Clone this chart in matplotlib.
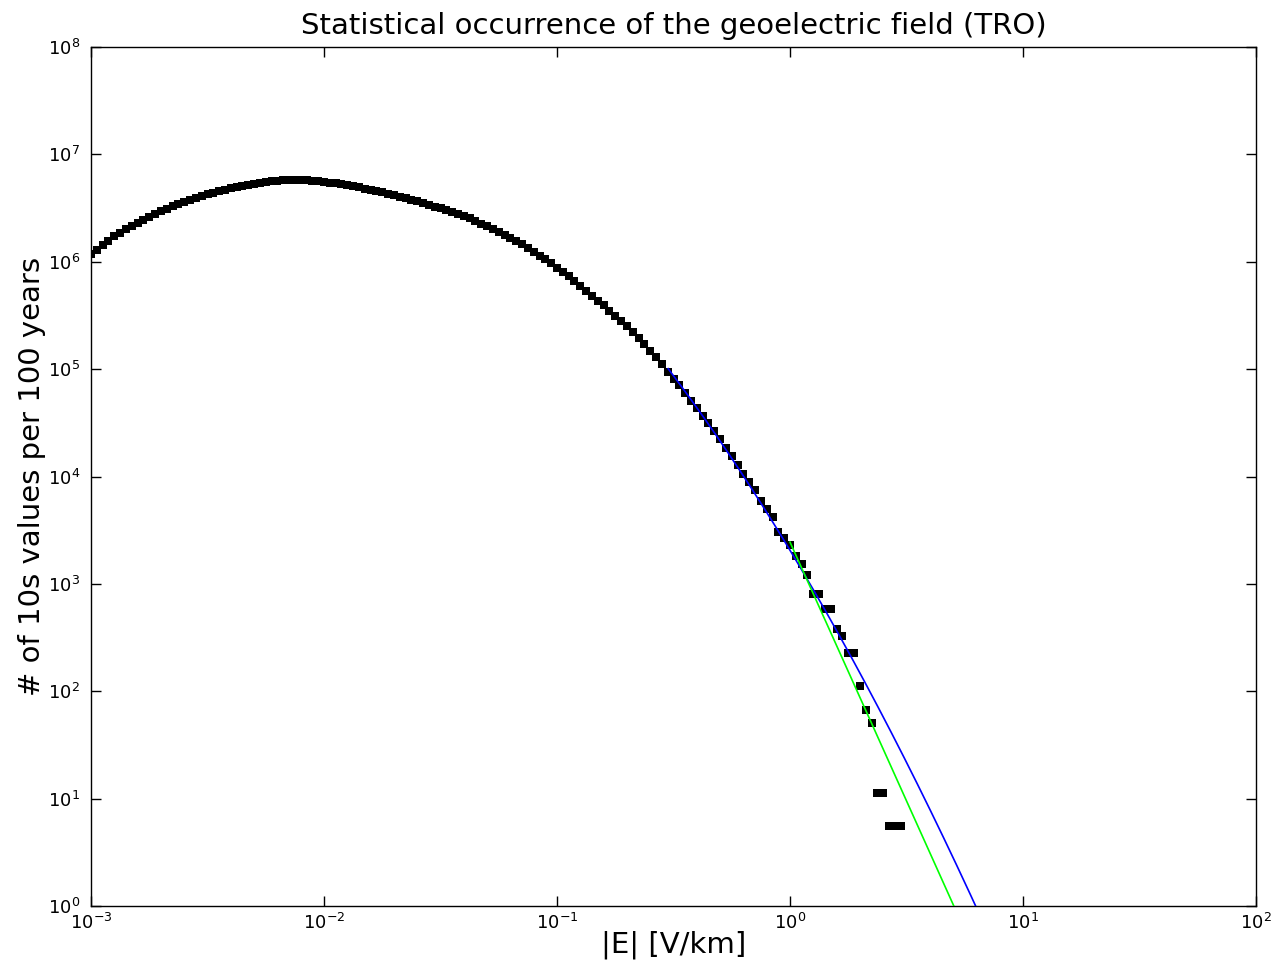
import numpy as np
import matplotlib
matplotlib.use("Agg")
import matplotlib.pyplot as plt
from matplotlib.ticker import LogLocator, NullLocator

# ---- data -------------------------------------------------------------
# logarithmic bin grid of |E| (V/km), 40 bins per decade starting at 1e-3
E_LOG_START = -3.0
E_LOG_STEP = 0.025
N_BINS = 140
E_BINS = 10 ** (E_LOG_START + E_LOG_STEP * np.arange(N_BINS))

# number of 10 s values per 100 years in each bin
COUNTS = [
    1.18e6, 1.29e6, 1.42e6, 1.56e6, 1.72e6, 1.87e6, 2.01e6, 2.15e6, 2.30e6, 2.46e6,
    2.63e6, 2.80e6, 2.96e6, 3.13e6, 3.30e6, 3.48e6, 3.64e6, 3.79e6, 3.95e6, 4.11e6,
    4.26e6, 4.41e6, 4.57e6, 4.70e6, 4.84e6, 4.96e6, 5.08e6, 5.20e6, 5.31e6, 5.42e6,
    5.53e6, 5.61e6, 5.68e6, 5.73e6, 5.77e6, 5.79e6, 5.77e6, 5.73e6, 5.68e6, 5.61e6,
    5.53e6, 5.45e6, 5.36e6, 5.26e6, 5.17e6, 5.05e6, 4.92e6, 4.80e6, 4.68e6, 4.56e6,
    4.44e6, 4.31e6, 4.17e6, 4.04e6, 3.91e6, 3.78e6, 3.65e6, 3.52e6, 3.39e6, 3.27e6,
    3.15e6, 3.04e6, 2.90e6, 2.77e6, 2.65e6, 2.53e6, 2.39e6, 2.26e6, 2.14e6, 2.03e6,
    1.91e6, 1.78e6, 1.67e6, 1.56e6, 1.45e6, 1.34e6, 1.24e6, 1.14e6, 1.05e6, 9.64e5,
    8.79e5, 8.00e5, 7.30e5, 6.64e5, 5.99e5, 5.38e5, 4.84e5, 4.35e5, 3.92e5, 3.51e5,
    3.14e5, 2.82e5, 2.51e5, 2.22e5, 1.95e5, 1.71e5, 1.48e5, 1.29e5, 1.11e5, 9.46e4,
    8.10e4, 7.04e4, 6.03e4, 5.09e4, 4.31e4, 3.67e4, 3.12e4, 2.63e4, 2.22e4, 1.86e4,
    1.55e4, 1.27e4, 1.05e4, 8.91e3, 7.42e3, 5.90e3, 4.97e3, 4.21e3, 3.02e3, 2.65e3,
    2.30e3, 1.82e3, 1.53e3, 1.21e3, 804, 804, 579, 579, 377, 327,
    228, 228, 112, 66.8, 50.2, 11.2, 11.2, 5.59, 5.59, 5.59,
]

# fitted tail models
BLUE_FIT = (3.313, -3.6, -0.7)      # log10 N = a + b*log10E + c*log10E^2
BLUE_RANGE = (0.3, 10.0)
GREEN_FIT = (2.45e3, -4.82)         # N = A * E^p
GREEN_RANGE = (1.0, 10.0)

TITLE = "Statistical occurrence of the geoelectric field (TRO)"
XLABEL = "|E| [V/km]"
YLABEL = "# of 10s values per 100 years"

# ---- figure -----------------------------------------------------------
fig = plt.figure(figsize=(12.76, 9.66), dpi=100)
ax = fig.add_axes([91 / 1276, 1 - 906 / 966, (1256 - 91) / 1276, (906 - 47) / 966])

ax.plot(E_BINS, COUNTS, linestyle="none", marker="s", markersize=5.9,
        markeredgewidth=0, color="black", zorder=2)

xb = np.logspace(np.log10(BLUE_RANGE[0]), np.log10(BLUE_RANGE[1]), 300)
ub = np.log10(xb)
a, b, c = BLUE_FIT
ax.plot(xb, 10 ** (a + b * ub + c * ub ** 2), color="#0000ff", lw=1.2, zorder=3)

xg = np.logspace(np.log10(GREEN_RANGE[0]), np.log10(GREEN_RANGE[1]), 300)
ax.plot(xg, GREEN_FIT[0] * xg ** GREEN_FIT[1], color="#00ff00", lw=1.2, zorder=3)

ax.set_xscale("log")
ax.set_yscale("log")
ax.set_xlim(1e-3, 1e2)
ax.set_ylim(1e0, 1e8)

ax.xaxis.set_major_locator(LogLocator(base=10, numticks=20))
ax.yaxis.set_major_locator(LogLocator(base=10, numticks=20))
ax.xaxis.set_minor_locator(NullLocator())
ax.yaxis.set_minor_locator(NullLocator())

ax.tick_params(which="major", direction="in", length=7, width=1.0,
               top=True, right=True, labelsize=13)
ax.tick_params(axis="y", pad=8)
ax.tick_params(axis="x", pad=5)
for s in ax.spines.values():
    s.set_linewidth(1.0)

ax.set_title(TITLE, fontsize=21, pad=9)
ax.set_xlabel(XLABEL, fontsize=21, labelpad=-2)
ax.set_ylabel(YLABEL, fontsize=21, labelpad=1)

fig.savefig("out.png", dpi=100)
